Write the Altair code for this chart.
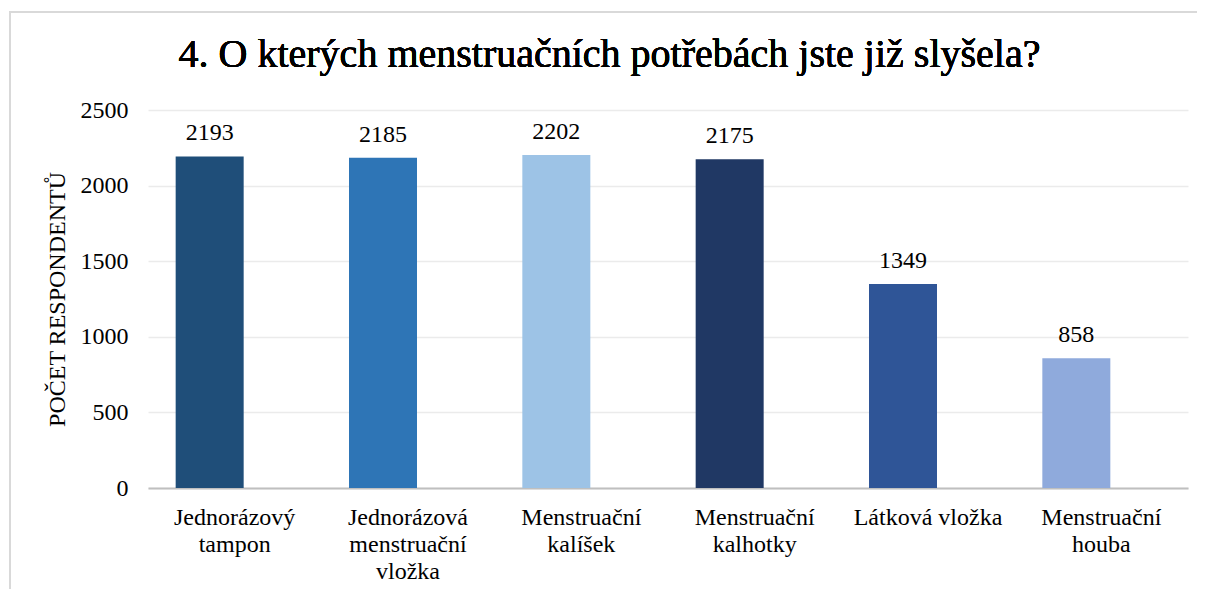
import altair as alt
import pandas as pd

categories = [
    "Jednorázový|tampon",
    "Jednorázová|menstruační|vložka",
    "Menstruační|kalíšek",
    "Menstruační|kalhotky",
    "Látková vložka",
    "Menstruační|houba",
]
values = [2193, 2185, 2202, 2175, 1349, 858]
colors = ["#1F4E79", "#2E75B6", "#9DC3E6", "#203864", "#2F5597", "#8FAADC"]
y_ticks = [0, 500, 1000, 1500, 2000, 2500]
title_text = "4. O kterých menstruačních potřebách jste již slyšela?"
y_title = "POČET RESPONDENTŮ"

df = pd.DataFrame({"cat": categories, "val": values, "col": colors})

FONT = "'Liberation Serif', 'Times New Roman', serif"
FS = 24

x_enc = alt.X(
    "cat:N",
    sort=categories,
    scale=alt.Scale(paddingInner=0, paddingOuter=0),
    axis=alt.Axis(
        title=None,
        labelAngle=0,
        labelExpr="split(datum.label, '|')",
        labelFont=FONT,
        labelFontSize=FS,
        labelLineHeight=27,
        labelColor="#000000",
        labelPadding=17,
        labelBaseline="top",
        ticks=False,
        domainColor="#BFBFBF",
        domainWidth=2,
        grid=False,
    ),
)

y_enc = alt.Y(
    "val:Q",
    scale=alt.Scale(domain=[0, 2500], nice=False),
    axis=alt.Axis(
        values=y_ticks,
        format="d",
        title=y_title,
        titleFont=FONT,
        titleFontSize=FS,
        titleFontWeight="normal",
        titleColor="#000000",
        titleAngle=-90,
        titleX=-91,
        titleY=189,
        titleAlign="center",
        titleBaseline="middle",
        labelFont=FONT,
        labelFontSize=FS,
        labelColor="#000000",
        labelPadding=20,
        ticks=False,
        domain=False,
        grid=True,
        gridColor="#EBEBEB",
        gridWidth=1.5,
    ),
)

frame = alt.Chart(df).mark_rect(
    fill=None, stroke="#D9D9D9", strokeWidth=1.5
).encode(
    x=alt.value(-138), x2=alt.value(1070), y=alt.value(-98), y2=alt.value(520)
)

title = alt.Chart(df).mark_text(
    text=title_text, font=FONT, fontSize=40, fontWeight="normal", color="#000000",
    align="center", baseline="alphabetic",
).encode(x=alt.value(461.5), y=alt.value(-43))

bars = alt.Chart(df).mark_bar(size=68, xOffset=-25).encode(
    x=x_enc,
    y=y_enc,
    color=alt.Color("col:N", scale=None),
)

labels = alt.Chart(df).mark_text(
    font=FONT, fontSize=FS, color="#000000", baseline="alphabetic", dy=-16, xOffset=-25
).encode(
    x=alt.X("cat:N", sort=categories),
    y=alt.Y("val:Q"),
    text=alt.Text("val:Q"),
)

chart = alt.layer(frame, title, bars, labels).properties(
    width=1040,
    height=378,
    padding={"left": 140, "top": 102, "right": 9, "bottom": 101},
    autosize=alt.AutoSizeParams(type="none"),
).configure_view(stroke=None)

chart.save("out.html", embed_options={"renderer": "svg", "actions": False})
